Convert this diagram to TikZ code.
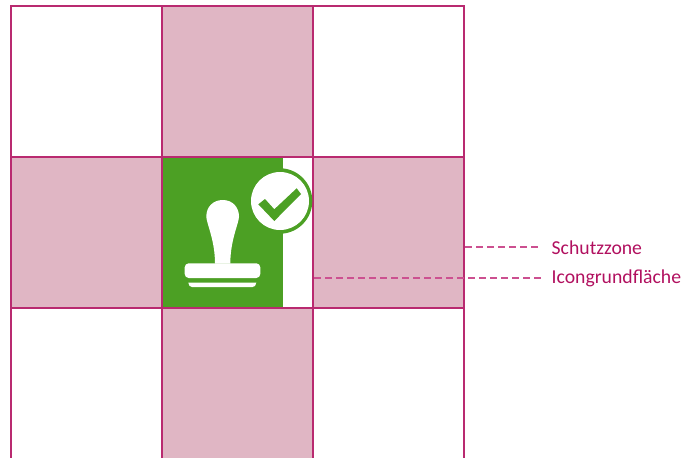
\documentclass[tikz,border=0pt]{standalone}
\usepackage{fontspec}
\setmainfont{Carlito}
\definecolor{mag}{HTML}{B1105F}
\definecolor{gridcol}{HTML}{B92A70}
\definecolor{leadcol}{HTML}{CC5090}
\definecolor{zone}{HTML}{E0B6C4}
\definecolor{icongreen}{HTML}{4CA024}
\newcommand{\gridV}[1]{\fill[gridcol] (#1-0.9,5) rectangle (#1+0.9,458);}
\newcommand{\gridH}[1]{\fill[gridcol] (10,#1-0.9) rectangle (465,#1+0.9);}
\tikzset{
  zonefill/.style={fill=zone,draw=none},
  leader/.style={draw=leadcol,line width=1.1pt,dash pattern=on 6.5pt off 4.5pt},
  lab/.style={anchor=west,text=mag,font=\fontsize{19.7}{22}\selectfont,inner sep=0pt},
}
\begin{document}
\begin{tikzpicture}[x=1pt,y=-1pt]
\useasboundingbox (0,0) rectangle (683,458);
\clip (0,0) rectangle (683,458);
% zones
\fill[zonefill] (162,6) rectangle (313,157);
\fill[zonefill] (11,157) rectangle (162,308);
\fill[zonefill] (313,157) rectangle (464,308);
\fill[zonefill] (162,308) rectangle (313,458);
% icon area
\fill[icongreen] (162,157) rectangle (283,308);
% grid
\gridV{11}\gridV{162}\gridV{313}\gridV{464}
\gridH{6}\gridH{157}\gridH{308}
% badge
\fill[icongreen] (279.5,201) circle (32.8);
\fill[white] (280,201) circle (29);
\fill[icongreen] (258.3,204.3) -- (265,199) -- (274.3,209.3) -- (296.7,188.3) -- (301,194) -- (274.3,221) -- cycle;
% stamp
\fill[white] (222.7,200) .. controls (213,200) and (206.3,207) .. (206.3,216.5)
  .. controls (206.3,223) and (215,240) .. (215,263.5)
  -- (230.3,263.5)
  .. controls (230.3,240) and (239,223) .. (239,216.5)
  .. controls (239,207) and (232.4,200) .. (222.7,200) -- cycle;
\fill[white,rounded corners=4pt] (184.7,263.3) rectangle (260.3,278);
\fill[white] (188.3,282.7) -- (256.3,282.7) .. controls (255.8,285.5) and (254.8,287) .. (252.5,287)
  -- (192,287) .. controls (189.8,287) and (188.8,285.5) .. (188.3,282.7) -- cycle;
% labels and leaders
\node[lab] (schutz) at (551.5,247.5) {Schutzzone};
\node[lab] (grund) at (551.5,278.5) {Icongrundfläche};
\coordinate (zoneedge) at (465,247);
\coordinate (iconedge) at (314,278);
\draw[leader] (zoneedge) -- (541.5,247);
\draw[leader] (iconedge) -- (541.5,278);
\end{tikzpicture}
\end{document}
